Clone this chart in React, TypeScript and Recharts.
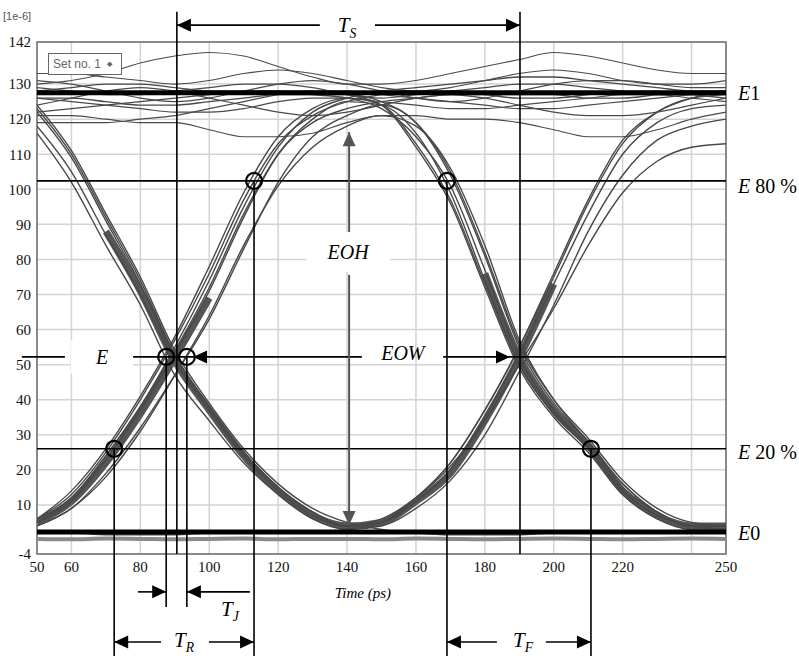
import React from 'react';
import {
  ComposedChart, Line, XAxis, YAxis, CartesianGrid,
  ReferenceLine, ReferenceDot, ReferenceArea,
} from 'recharts';

// sample instants (ps)
const TIME = [50, 60, 70, 80, 90, 100, 110, 120, 130, 140, 150, 160, 170, 180, 190, 200, 210, 220, 230, 240, 250];

// dense lower part of the edge bundles (drawn thick); null where the bundle fans out
const CORE_RISE_FALL = [5, 11, 22, 36, 52, 69, null, null, null, null, null, null, null, 76, 52, 37, 27, 14, 7, 4, 4];
const CORE_FALL_RISE = [null, null, 88, 71, 51, 37, 24, 14, 7, 4, 5, 11, 19, 34, 52, 73, null, null, null, null, null];

// individual traces
const RISE_EARLY_HIGH = [6, 13, 25, 40, 57, 76, 97, 113, 121, 125, 127, 128, 128, 127, 126, 126, 127, 128, 128, 127, 126];
const RISE_LATE_FALL_LATE = [4, 9, 19, 32, 47, 63, 83, 102, 115, 121, 124, 119, 105, 82, 56, 40, 29, 17, 9, 5, 4];
const HIGH_FALL_EARLY = [128, 129, 130, 130, 129, 128, 128, 128, 128, 127, 124, 112, 96, 72, 49, 35, 25, 13, 6, 3, 3];
const FALL_LOW = [124, 111, 93, 75, 54, 39, 26, 16, 9, 5, 3, 2, 1.5, 1.5, 1.5, 2, 2, 2, 2, 2, 2];
const LOW_RISE = [2, 2, 1.5, 1.5, 1.5, 2, 2, 2, 2, 3, 5, 12, 22, 37, 55, 76, 97, 114, 122, 126, 128];
const FALL_LATE_RISE_LATE = [116, 102, 84, 67, 47, 34, 22, 13, 6, 3, 4, 9, 17, 30, 48, 67, 88, 104, 114, 118, 120];
const RISE_SLOW_FALL = [4, 9, 18, 31, 47, 64, 84, 101, 112, 118, 121, 118, 106, 84, 57, 40, 28, 16, 8, 4, 4];
const FALL_RISE_SLOW = [122, 109, 91, 73, 52, 38, 25, 15, 8, 4, 6, 12, 21, 34, 50, 66, 84, 99, 108, 112, 113];
const RISE_FAST_FALL_EARLY = [6, 14, 26, 41, 58, 78, 99, 115, 123, 126, 124, 113, 97, 73, 50, 36, 26, 14, 7, 4, 3];
const RISE_HIGH_DRIFT = [5, 12, 24, 38, 55, 74, 95, 112, 122, 126, 128, 129, 130, 131, 132, 132, 131, 130, 129, 128, 128];
const RISE_MID_HIGH = [5, 11, 23, 37, 53, 71, 92, 110, 119, 123, 125, 126, 127, 127, 127, 127, 126, 126, 127, 128, 128];
const HIGH_FALL_MID = [122, 123, 124, 125, 126, 127, 128, 128, 127, 126, 123, 115, 101, 77, 52, 37, 27, 15, 8, 4, 4];
const FALL_RISE_MID = [118, 105, 87, 70, 51, 37, 24, 14, 7, 4, 5, 11, 20, 35, 53, 73, 93, 110, 119, 123, 124];
const RISE_FALL_MID = [6, 12, 24, 38, 54, 72, 93, 110, 120, 125, 124, 116, 99, 74, 50, 36, 26, 14, 7, 4, 3];
const FALL_RISE_EARLY = [123, 110, 92, 74, 53, 38, 25, 15, 8, 4, 5, 12, 22, 37, 55, 75, 96, 113, 122, 126, 127];
const HIGH_FALL_LATE = [126, 126, 125, 124, 124, 125, 126, 127, 127, 127, 125, 119, 104, 81, 55, 39, 28, 16, 8, 4, 4];

// steady high level traces
const HIGH_A = [130, 131, 133, 136, 138, 139, 138, 135, 132, 130, 130, 131, 133, 135, 137, 139, 138, 136, 134, 133, 133];
const HIGH_B = [133, 133, 132, 131, 130, 131, 133, 134, 133, 131, 129, 128, 129, 131, 133, 134, 133, 131, 130, 130, 131];
const HIGH_C = [121, 121, 120, 119, 119, 117, 115, 115, 116, 119, 121, 121, 120, 120, 119, 117, 115, 115, 117, 120, 122];
const HIGH_D = [126, 125, 124, 123, 122, 122, 123, 125, 126, 126, 125, 124, 123, 123, 124, 125, 126, 127, 127, 126, 125];
const HIGH_E = [119, 119, 119, 120, 121, 123, 125, 127, 128, 128, 127, 126, 125, 124, 123, 123, 124, 125, 126, 127, 128];
const HIGH_F = [129, 128, 127, 127, 128, 129, 130, 130, 129, 127, 126, 127, 128, 129, 130, 130, 129, 128, 127, 127, 128];
const HIGH_G = [124, 126, 128, 129, 128, 126, 124, 122, 121, 122, 124, 126, 127, 126, 124, 122, 121, 121, 122, 124, 126];
const HIGH_H = [131, 130, 128, 126, 125, 126, 128, 130, 131, 130, 128, 126, 125, 126, 128, 130, 131, 131, 130, 129, 129];

// steady low level
const LOW_A = [0.3, 0.2, 0.4, 0.3, 0.2, 0.3, 0.4, 0.2, 0.3, 0.3, 0.2, 0.4, 0.3, 0.2, 0.3, 0.4, 0.3, 0.2, 0.3, 0.4, 0.3];

const X_TICKS = [50, 60, 80, 100, 120, 140, 160, 180, 200, 220, 240, 250];
const Y_TICKS = [-4, 10, 20, 30, 40, 50, 60, 70, 80, 90, 100, 110, 120, 130, 142];

// measurement levels
const E1 = 127.5;
const E80 = 102.4;
const E_MID = 52.2;
const E20 = 26;
const E0 = 2.3;

// measurement instants
const TS_START = 90.6;
const TS_END = 190.2;
const RISE_START = 72.4;
const RISE_END = 113;
const JITTER_A = 87.5;
const JITTER_B = 93.5;
const FALL_START = 169;
const FALL_END = 210.8;
const EOH_X = 140.6;

const SERIF = "'Liberation Serif', 'Times New Roman', serif";

const TRACES: [string, (number | null)[], number, string][] = [
  ['hA', HIGH_A, 1.1, '#4a4a4a'],
  ['hB', HIGH_B, 1.1, '#4a4a4a'],
  ['hC', HIGH_C, 1.1, '#4a4a4a'],
  ['hD', HIGH_D, 1.1, '#4a4a4a'],
  ['hE', HIGH_E, 1.1, '#4a4a4a'],
  ['hF', HIGH_F, 1.1, '#4a4a4a'],
  ['hG', HIGH_G, 1.1, '#4a4a4a'],
  ['hH', HIGH_H, 1.1, '#4a4a4a'],
  ['lo', LOW_A, 4, '#8a8a8a'],
  ['cRF', CORE_RISE_FALL, 7, '#555'],
  ['cFR', CORE_FALL_RISE, 7, '#555'],
  ['t1', RISE_EARLY_HIGH, 1.4, '#484848'],
  ['t2', RISE_LATE_FALL_LATE, 1.4, '#484848'],
  ['t3', HIGH_FALL_EARLY, 1.4, '#484848'],
  ['t4', FALL_LOW, 1.4, '#484848'],
  ['t5', LOW_RISE, 1.4, '#484848'],
  ['t6', FALL_LATE_RISE_LATE, 1.4, '#484848'],
  ['t7', RISE_SLOW_FALL, 1.4, '#484848'],
  ['t8', FALL_RISE_SLOW, 1.4, '#484848'],
  ['t9', RISE_FAST_FALL_EARLY, 1.4, '#484848'],
  ['t10', RISE_HIGH_DRIFT, 1.4, '#484848'],
  ['t11', RISE_MID_HIGH, 1.4, '#484848'],
  ['t12', HIGH_FALL_MID, 1.4, '#484848'],
  ['t13', FALL_RISE_MID, 1.4, '#484848'],
  ['t14', RISE_FALL_MID, 1.4, '#484848'],
  ['t15', FALL_RISE_EARLY, 1.4, '#484848'],
  ['t16', HIGH_FALL_LATE, 1.4, '#484848'],
];

const data = TIME.map((t, i) => {
  const row: any = { t };
  TRACES.forEach(([k, v]) => { row[k] = v[i]; });
  return row;
});

const arrow = (head: 'start' | 'end' | 'none', color = '#000', w = 1.6) => (p: any) => {
  const { x1, y1, x2, y2 } = p;
  if ([x1, y1, x2, y2].some((v) => v == null || isNaN(v))) return <g />;
  let tip = null;
  if (head !== 'none') {
    const [tx, ty, fx, fy] = head === 'end' ? [x2, y2, x1, y1] : [x1, y1, x2, y2];
    const len = Math.hypot(tx - fx, ty - fy) || 1;
    const ux = (tx - fx) / len, uy = (ty - fy) / len;
    const L = 14, H = 6.5;
    const bx = tx - ux * L, by = ty - uy * L;
    tip = <polygon points={`${tx},${ty} ${bx - uy * H},${by + ux * H} ${bx + uy * H},${by - ux * H}`} fill={color} />;
  }
  return <g><line x1={x1} y1={y1} x2={x2} y2={y2} stroke={color} strokeWidth={w} />{tip}</g>;
};

type Part = { t: string; i?: boolean; sub?: boolean };
const label = (parts: Part[], size = 20, anchor: 'start' | 'middle' = 'middle', box?: [number, number]) => (p: any) => {
  const { cx, cy } = p;
  return (
    <g>
      {box && <rect x={cx - box[0] / 2} y={cy - box[1] / 2} width={box[0]} height={box[1]} fill="#fff" />}
      <text x={cx} y={cy + size * 0.34} textAnchor={anchor} fontFamily={SERIF} fontSize={size} fill="#000">
        {parts.map((q, k) => (
          <tspan key={k} fontStyle={q.i ? 'italic' : 'normal'} fontSize={q.sub ? size * 0.65 : size}
            dy={q.sub ? size * 0.25 : (k > 0 && parts[k - 1].sub ? -size * 0.25 : 0)}>{q.t}</tspan>
        ))}
      </text>
    </g>
  );
};

const seg = (x1: number, y1: number, x2: number, y2: number, head: 'start' | 'end' | 'none' = 'none', color = '#000', w = 1.6) => (
  <ReferenceLine segment={[{ x: x1, y: y1 }, { x: x2, y: y2 }]} ifOverflow="visible" shape={arrow(head, color, w)} />
);

const txt = (x: number, y: number, parts: Part[], size = 20, anchor: 'start' | 'middle' = 'middle', box?: [number, number]) => (
  <ReferenceDot x={x} y={y} r={1} ifOverflow="visible" shape={label(parts, size, anchor, box)} />
);

const CIRCLES: [number, number][] = [
  [RISE_START, E20], [JITTER_A, E_MID], [JITTER_B, E_MID], [RISE_END, E80], [FALL_START, E80], [FALL_END, E20],
];

export default function App() {
  return (
    <div style={{ position: 'absolute', left: 0, top: 0, width: 799, height: 656, background: '#fff' }}>
      <ComposedChart width={799} height={656} data={data} margin={{ top: 42, right: 73, bottom: 72, left: 0 }}>
        <CartesianGrid stroke="#d3d3d3" strokeWidth={1.5} />
        <XAxis dataKey="t" type="number" domain={[50, 250]} ticks={X_TICKS} interval={0} allowDataOverflow
          tickFormatter={(v: number) => (v === 240 ? '' : String(v))}
          tick={{ fontFamily: SERIF, fontSize: 15, fill: '#111' }} tickLine={false} axisLine={false}
          tickSize={0} tickMargin={7} height={30} />
        <YAxis type="number" domain={[-4, 142]} ticks={Y_TICKS} interval={0} allowDataOverflow width={37}
          tick={{ fontFamily: SERIF, fontSize: 15, fill: '#111' }} tickLine={false} axisLine={false}
          tickSize={0} tickMargin={6} />
        <ReferenceArea x1={50} x2={250} y1={-4} y2={142} fill="none" stroke="#707070" strokeWidth={1.5} ifOverflow="visible" />
        {TRACES.map(([k, , w, c]) => (
          <Line key={k} dataKey={k} type="monotone" stroke={c} strokeWidth={w} dot={false}
            isAnimationActive={false} strokeLinecap={w > 4 ? 'butt' : 'round'} connectNulls={false} />
        ))}

        {/* level lines */}
        {seg(50, E1, 250, E1, 'none', '#000', 5)}
        {seg(50, E0, 250, E0, 'none', '#000', 5)}
        {seg(50, E80, 250, E80)}
        {seg(50, E20, 250, E20)}
        {seg(45.6, E_MID, 58.1, E_MID)}
        {seg(76.4, E_MID, 95.3, E_MID)}
        {seg(144.3, E_MID, 95.3, E_MID, 'end')}
        {seg(167.9, E_MID, 187.3, E_MID, 'end')}
        {seg(187.3, E_MID, 250, E_MID)}

        {/* timing lines */}
        {seg(TS_START, 150.6, TS_START, -4)}
        {seg(TS_END, 150.6, TS_END, -4)}
        {seg(RISE_START, E20, RISE_START, -34)}
        {seg(RISE_END, E80, RISE_END, -34)}
        {seg(FALL_START, E80, FALL_START, -34)}
        {seg(FALL_END, E20, FALL_END, -34)}
        {seg(JITTER_A, E_MID, JITTER_A, -19.1)}
        {seg(JITTER_B, E_MID, JITTER_B, -19.1)}

        {/* arrows */}
        {seg(TS_START, 146.8, 132.1, 146.8, 'start')}
        {seg(148.1, 146.8, TS_END, 146.8, 'end')}
        {seg(79.3, -14.8, JITTER_A, -14.8, 'end')}
        {seg(JITTER_B, -14.8, 111.8, -14.8, 'start')}
        {seg(RISE_START, -29.1, 86.0, -29.1, 'start')}
        {seg(99.9, -29.1, RISE_END, -29.1, 'end')}
        {seg(FALL_START, -29.1, 183.5, -29.1, 'start')}
        {seg(197.7, -29.1, FALL_END, -29.1, 'end')}
        {seg(EOH_X, 116.3, EOH_X, 86.9, 'start', '#555', 2)}
        {seg(EOH_X, 75.6, EOH_X, 4.3, 'end', '#555', 2)}

        {CIRCLES.map(([x, y], i) => (
          <ReferenceDot key={i} x={x} y={y} r={8} fill="none" stroke="#000" strokeWidth={2.2} ifOverflow="visible" />
        ))}

        {txt(253.5, E1, [{ t: 'E', i: true }, { t: '1' }], 20, 'start')}
        {txt(253.5, E80 - 1.5, [{ t: 'E', i: true }, { t: ' 80 %' }], 20, 'start')}
        {txt(253.5, E20 - 0.9, [{ t: 'E', i: true }, { t: ' 20 %' }], 20, 'start')}
        {txt(253.5, E0 - 0.3, [{ t: 'E', i: true }, { t: '0' }], 20, 'start')}
        {txt(68.9, E_MID, [{ t: 'E', i: true }], 20, 'middle', [62, 34])}
        {txt(156.2, E_MID + 1.1, [{ t: 'EOW', i: true }], 20)}
        {txt(140.3, 82.1, [{ t: 'EOH', i: true }], 20, 'middle', [84, 40])}
        {txt(140, 146.8, [{ t: 'T', i: true }, { t: 'S', i: true, sub: true }], 21)}
        {txt(106, -19.7, [{ t: 'T', i: true }, { t: 'J', i: true, sub: true }], 21)}
        {txt(92.7, -28.5, [{ t: 'T', i: true }, { t: 'R', i: true, sub: true }], 21)}
        {txt(191.1, -28.5, [{ t: 'T', i: true }, { t: 'F', i: true, sub: true }], 21)}
        {txt(144.6, -15.1, [{ t: 'Time (ps)', i: true }], 15)}
      </ComposedChart>
      <div style={{ position: 'absolute', left: 3, top: 10, font: '11px "Liberation Sans", Arial, sans-serif', color: '#555' }}>[1e-6]</div>
      <div style={{
        position: 'absolute', left: 48, top: 53, width: 74, height: 22, border: '1px solid #666', background: '#fff',
        boxSizing: 'border-box', display: 'flex', alignItems: 'center', paddingLeft: 4,
        font: '12px "Liberation Sans", Arial, sans-serif', color: '#666', whiteSpace: 'nowrap',
      }}>
        Set no. 1<span style={{ fontSize: 7, marginLeft: 6 }}>◆</span>
      </div>
    </div>
  );
}
